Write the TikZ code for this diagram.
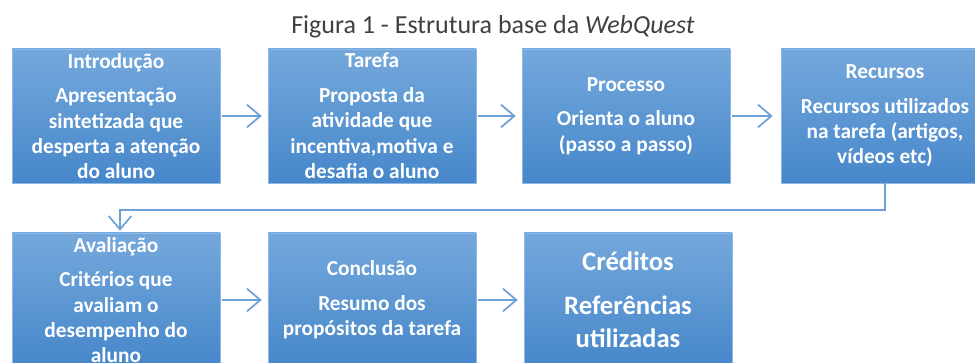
\documentclass[tikz,border=0pt]{standalone}
\usepackage{fontspec}
\setmainfont{Carlito}
\usetikzlibrary{arrows.meta}
\definecolor{boxtop}{RGB}{116,168,220}
\definecolor{boxbot}{RGB}{70,135,202}
\definecolor{boxedge}{RGB}{140,185,230}
\definecolor{arrowc}{RGB}{110,160,215}
\definecolor{titlec}{RGB}{64,64,64}
\tikzset{
  stepbox/.style={rectangle, draw=boxedge, line width=0.5pt, top color=boxtop, bottom color=boxbot,
    minimum width=156pt, minimum height=100.5pt, inner sep=0pt, align=center, text=white,
    font=\fontsize{16}{19}\selectfont\bfseries},
  bigbox/.style={stepbox, font=\fontsize{20}{25}\selectfont\bfseries},
  link/.style={draw=arrowc, line width=1.5pt, -{Straight Barb[length=10pt,width=17pt,line width=1.3pt]}},
}
\begin{document}
\begin{tikzpicture}[x=0.75pt,y=-0.75pt]
\useasboundingbox (0,0) rectangle (975,363);
\clip (0,0) rectangle (975,363);
\node[font=\fontsize{19.5}{23}\selectfont, text=titlec] (title) at (493,27) {Figura 1 - Estrutura base da \textit{WebQuest}};
\node[stepbox] (b1) at (116,116) {Introdução\\[7pt]Apresentação\\sintetizada que\\desperta a atenção\\do aluno};
\node[stepbox] (b2) at (372,116) {Tarefa\\[7pt]Proposta da\\atividade que\\incentiva,motiva e\\desafia o aluno};
\node[stepbox] (b3) at (626,116) {Processo\\[7pt]Orienta o aluno\\(passo a passo)};
\node[stepbox] (b4) at (885,116) {Recursos\\[7pt]Recursos utilizados\\na tarefa (artigos,\\vídeos etc)};
\node[stepbox] (b5) at (116,300) {Avaliação\\[7pt]Critérios que\\avaliam o\\desempenho do\\aluno};
\node[stepbox] (b6) at (372,300) {Conclusão\\[7pt]Resumo dos\\propósitos da tarefa};
\node[bigbox] (b7) at (628,300) {Créditos\\[8pt]Referências\\utilizadas};
\coordinate (turn) at (120,210);
\draw[link, shorten <=1.5pt, shorten >=4.5pt] (b1.east) -- (b2.west);
\draw[link, shorten <=1.5pt, shorten >=4.5pt] (b2.east) -- (b3.west);
\draw[link, shorten <=1.5pt, shorten >=6pt] (b3.east) -- (b4.west);
\draw[link, shorten <=1.5pt, shorten >=4.5pt] (b5.east) -- (b6.west);
\draw[link, shorten <=1.5pt, shorten >=4.5pt] (b6.east) -- (b7.west);
\draw[link, shorten >=1.5pt] (b4.south) |- (turn) -- (turn |- b5.north);
\end{tikzpicture}
\end{document}
